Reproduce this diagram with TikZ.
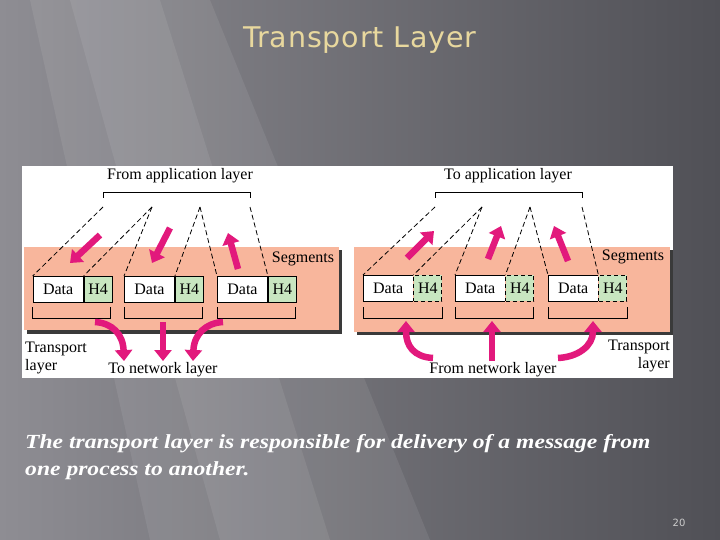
\documentclass[tikz,border=0pt]{standalone}
\usepackage{fontspec}
\setmainfont{Liberation Serif}
\newfontfamily\titlefont[LetterSpace=3]{DejaVu Sans}
\newfontfamily\numfont{DejaVu Sans}
\usetikzlibrary{arrows.meta}
\definecolor{mag}{HTML}{E2197C}
\definecolor{salmon}{HTML}{F8B69C}
\definecolor{hgreen}{HTML}{C8E6C0}
\definecolor{shadowc}{HTML}{3A3A3A}
\definecolor{tan}{HTML}{E8D89E}
\definecolor{bgl}{HTML}{8E8D93}
\definecolor{bgr}{HTML}{505056}
\tikzset{
  fat/.style={draw=mag, line width=6.5pt, -{Triangle[width=17pt,length=11pt]}},
  lbl/.style={font=\fontsize{16}{17}\selectfont, inner sep=0pt},
  datafill/.style={fill=white, minimum width=50pt, minimum height=26pt, inner sep=0pt, anchor=north west, font=\fontsize{16}{17}\selectfont},
  databox/.style={datafill, draw=black, line width=0.9pt},
  hbox/.style={fill=hgreen, draw=black, line width=0.9pt, minimum width=28pt, minimum height=26pt, inner sep=0pt, anchor=north west, font=\fontsize{16}{17}\selectfont},
  hboxd/.style={hbox, dashed, dash pattern=on 4pt off 3pt},
  dline/.style={draw=black, line width=0.8pt, dash pattern=on 5pt off 3pt},
  brk/.style={draw=black, line width=0.9pt},
  captxt/.style={anchor=base west, inner sep=0pt, text=white, font=\bfseries\itshape\fontsize{20}{27}\selectfont},
}
\begin{document}
\begin{tikzpicture}[x=1pt,y=-1pt]
\useasboundingbox (0,0) rectangle (720,540);
% background
\shade[left color=bgl, right color=bgr] (0,0) rectangle (720,540);
\fill[white, opacity=0.08] (30,0) -- (210,0) -- (430,540) -- (150,540) -- cycle;
\fill[white, opacity=0.08] (70,0) -- (160,0) -- (330,540) -- (220,540) -- cycle;
% title
\node[font=\titlefont\fontsize{28.5}{31}\selectfont, text=tan] (title) at (360,40) {Transport Layer};
% white panel
\fill[white] (22,166) rectangle (673,378);
% ---------- left panel ----------
\fill[shadowc] (27,250) rectangle (342,334);
\fill[salmon] (24,247) rectangle (339,330);
\node[lbl] (fal) at (180,176) {From application layer};
\draw[brk] (103,198) -- (103,192) -- (250,192) -- (250,198);
\coordinate (la1) at (103,207);
\coordinate (la2) at (152,207);
\coordinate (la3) at (200,207);
\coordinate (la4) at (250,207);
\node[databox] (ld1) at (32.7,276) {Data};
\node[hbox] (lh1) at (ld1.north east) {H4};
\node[databox] (ld2) at (124,276) {Data};
\node[hbox] (lh2) at (ld2.north east) {H4};
\node[databox] (ld3) at (217,276) {Data};
\node[hbox] (lh3) at (ld3.north east) {H4};
\draw[dline] (la1) -- (ld1.north west);
\draw[dline] (la2) -- (ld1.north east);
\draw[dline] (la2) -- (ld2.north west);
\draw[dline] (la3) -- (ld2.north east);
\draw[dline] (la3) -- (ld3.north west);
\draw[dline] (la4) -- (ld3.north east);
\draw[brk] (32.7,307) |- (110.7,318) -- (110.7,307);
\draw[brk] (124,307) |- (202,318) -- (202,307);
\draw[brk] (217,307) |- (295,318) -- (295,307);
\node[lbl] (lseg) at (303,259) {Segments};
\coordinate (lu1) at (100,235); \coordinate (lv1) at (70,263);
\coordinate (lu2) at (170,228); \coordinate (lv2) at (152,263);
\coordinate (lu3) at (238,269); \coordinate (lv3) at (228,233);
\draw[fat] (lu1) -- (lv1);
\draw[fat] (lu2) -- (lv2);
\draw[fat] (lu3) -- (lv3);
\coordinate (lb1) at (95,322); \coordinate (le1) at (124,361);
\coordinate (lb2) at (163,322); \coordinate (le2) at (163,361);
\coordinate (lb3) at (223,322); \coordinate (le3) at (193,361);
\draw[fat] (lb1) .. controls (112,323) and (123,334) .. (le1);
\draw[fat] (lb2) -- (le2);
\draw[fat] (lb3) .. controls (206,323) and (194,334) .. (le3);
\node[lbl, align=left, anchor=north west, font=\fontsize{16}{18}\selectfont] (ltl) at (25,342) {Transport\\layer};
\node[lbl] (tnl) at (163,370) {To network layer};
% ---------- right panel ----------
\fill[shadowc] (357,250) rectangle (673,335);
\fill[salmon] (354,247) rectangle (670,332);
\node[lbl] (tal) at (508,176) {To application layer};
\draw[brk] (435,198) -- (435,192) -- (582,192) -- (582,198);
\coordinate (ra1) at (435,207);
\coordinate (ra2) at (482,207);
\coordinate (ra3) at (530,207);
\coordinate (ra4) at (582,207);
\node[datafill] (rd1) at (363,275) {Data};
\node[hboxd] (rh1) at (rd1.north east) {H4};
\node[datafill] (rd2) at (455,275) {Data};
\node[hboxd] (rh2) at (rd2.north east) {H4};
\node[datafill] (rd3) at (548,275) {Data};
\node[hboxd] (rh3) at (rd3.north east) {H4};
\foreach \b in {rd1,rd2,rd3}{
  \draw[brk] (\b.north east) -- (\b.north west) -- (\b.south west) -- (\b.south east);
}
\draw[dline] (ra1) -- (rd1.north west);
\draw[dline] (ra2) -- (rd1.north east);
\draw[dline] (ra2) -- (rd2.north west);
\draw[dline] (ra3) -- (rd2.north east);
\draw[dline] (ra3) -- (rd3.north west);
\draw[dline] (ra4) -- (rd3.north east);
\draw[brk] (363,307) |- (442,318) -- (442,307);
\draw[brk] (455,307) |- (533,318) -- (533,307);
\draw[brk] (548,307) |- (627,318) -- (627,307);
\node[lbl] (rseg) at (633,257) {Segments};
\coordinate (ru1) at (407,258); \coordinate (rv1) at (434,231);
\coordinate (ru2) at (488,259); \coordinate (rv2) at (501,226);
\coordinate (ru3) at (568,261); \coordinate (rv3) at (554,226);
\draw[fat] (ru1) -- (rv1);
\draw[fat] (ru2) -- (rv2);
\draw[fat] (ru3) -- (rv3);
\coordinate (rb1) at (433,358); \coordinate (re1) at (406,321);
\coordinate (rb2) at (492,361); \coordinate (re2) at (492,321);
\coordinate (rb3) at (558,358); \coordinate (re3) at (593,321);
\draw[fat] (rb1) .. controls (414,357) and (406,346) .. (re1);
\draw[fat] (rb2) -- (re2);
\draw[fat] (rb3) .. controls (578,357) and (593,346) .. (re3);
\node[lbl, align=right, anchor=north east, font=\fontsize{16}{18}\selectfont] (rtl) at (670,340) {Transport\\layer};
\node[lbl] (fnl) at (493,370) {From network layer};
% caption
\node[captxt] (cap1) at (25,448) {\scalebox{1.18}[1]{The transport layer is responsible for delivery of a message from}};
\node[captxt] (cap2) at (25,475) {\scalebox{1.18}[1]{one process to another.}};
\node[font=\numfont\fontsize{10}{12}\selectfont, text=black!20] (pg) at (679,523) {20};
\end{tikzpicture}
\end{document}
